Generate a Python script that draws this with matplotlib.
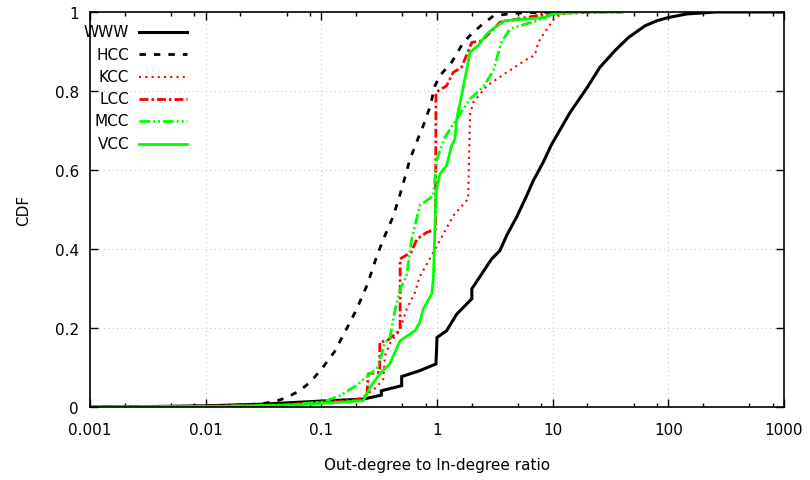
import matplotlib
matplotlib.use("Agg")
import matplotlib.pyplot as plt
from matplotlib.ticker import LogLocator, FixedLocator, NullFormatter, FixedFormatter
from matplotlib.lines import Line2D

# ---- data ----
www_x = [0.001, 0.003, 0.01, 0.03, 0.1, 0.23, 0.33, 0.33, 0.495, 0.495, 0.71, 0.98, 1.0, 1.21, 1.48, 2.0, 2.0, 2.97,
         3.5, 4.0, 4.9, 5.96, 6.8, 8.3, 9.8, 14.1, 20.0, 25.6, 34.5, 45.0, 62.8, 80.0, 100.0, 144.0, 261.0, 1000.0]
www_y = [0.0, 0.001, 0.003, 0.007, 0.015, 0.02, 0.03, 0.041, 0.054, 0.077, 0.092, 0.109, 0.176, 0.193, 0.235, 0.274,
         0.299, 0.375, 0.396, 0.434, 0.482, 0.535, 0.573, 0.62, 0.665, 0.745, 0.81, 0.86, 0.902, 0.935, 0.965, 0.978,
         0.986, 0.995, 1.0, 1.0]

hcc_x = [0.001, 0.005, 0.01, 0.02, 0.03, 0.04, 0.05, 0.065, 0.08, 0.1, 0.13, 0.16, 0.2, 0.25, 0.3, 0.344, 0.42, 0.495,
         0.585, 0.71, 0.76, 0.87, 0.96, 1.06, 1.34, 1.69, 2.06, 2.5, 3.07, 4.6, 10.0]
hcc_y = [0.0, 0.001, 0.003, 0.005, 0.008, 0.014, 0.024, 0.041, 0.063, 0.095, 0.14, 0.19, 0.245, 0.31, 0.38, 0.425,
         0.484, 0.552, 0.628, 0.691, 0.712, 0.76, 0.813, 0.839, 0.873, 0.923, 0.949, 0.97, 0.99, 0.997, 1.0]

kcc_x = [0.001, 0.01, 0.05, 0.1, 0.216, 0.3, 0.344, 0.355, 0.39, 0.48, 0.547, 0.645, 0.71, 1.0, 1.38, 1.86, 1.93,
         2.06, 2.69, 4.0, 5.96, 7.0, 7.5, 8.6, 10.4, 12.0, 30.0, 40.0]
kcc_y = [0.0, 0.001, 0.006, 0.013, 0.02, 0.05, 0.071, 0.13, 0.16, 0.197, 0.248, 0.29, 0.33, 0.408, 0.484, 0.527,
         0.74, 0.771, 0.813, 0.847, 0.88, 0.89, 0.923, 0.95, 0.985, 0.995, 1.0, 1.0]

lcc_x = [0.001, 0.01, 0.05, 0.1, 0.177, 0.247, 0.255, 0.32, 0.32, 0.37, 0.40, 0.46, 0.48, 0.48, 0.60, 0.67, 0.815,
         0.97, 0.98, 1.21, 1.38, 1.63, 2.0, 2.43, 2.87, 3.5, 7.0, 15.0, 40.0]
lcc_y = [0.0, 0.002, 0.006, 0.012, 0.015, 0.025, 0.084, 0.088, 0.164, 0.168, 0.176, 0.19, 0.197, 0.375, 0.392, 0.425,
         0.442, 0.45, 0.797, 0.813, 0.847, 0.86, 0.923, 0.927, 0.948, 0.974, 0.99, 1.0, 1.0]

mcc_x = [0.001, 0.01, 0.05, 0.104, 0.145, 0.2, 0.264, 0.30, 0.33, 0.355, 0.39, 0.43, 0.48, 0.547, 0.6, 0.71, 0.93,
         1.0, 1.17, 1.48, 1.93, 2.5, 3.07, 3.6, 4.27, 5.2, 7.3, 10.0, 20.0]
mcc_y = [0.0, 0.001, 0.005, 0.013, 0.029, 0.054, 0.084, 0.096, 0.13, 0.164, 0.172, 0.24, 0.299, 0.332, 0.42, 0.51,
         0.535, 0.628, 0.683, 0.729, 0.78, 0.81, 0.851, 0.923, 0.957, 0.965, 0.978, 0.995, 1.0]

vcc_x = [0.001, 0.01, 0.05, 0.145, 0.23, 0.27, 0.32, 0.39, 0.48, 0.645, 0.71, 0.76, 0.90, 0.93, 0.98, 1.06, 1.21,
         1.34, 1.43, 1.48, 1.63, 1.93, 2.27, 2.69, 3.17, 3.86, 8.6, 10.0, 15.0, 40.0]
vcc_y = [0.0, 0.001, 0.004, 0.012, 0.016, 0.054, 0.084, 0.109, 0.168, 0.193, 0.214, 0.248, 0.286, 0.324, 0.544,
         0.59, 0.611, 0.662, 0.678, 0.729, 0.788, 0.898, 0.915, 0.944, 0.961, 0.978, 0.986, 0.995, 1.0, 1.0]

labels = ["WWW", "HCC", "KCC", "LCC", "MCC", "VCC"]
xticks = [0.001, 0.01, 0.1, 1, 10, 100, 1000]
xtick_labels = ["0.001", "0.01", "0.1", "1", "10", "100", "1000"]
yticks = [0, 0.2, 0.4, 0.6, 0.8, 1]
ytick_labels = ["0", "0.2", "0.4", "0.6", "0.8", "1"]

# ---- styles ----
W, H = 810, 481
fig = plt.figure(figsize=(W / 100, H / 100), dpi=100)
ax = fig.add_axes([90 / W, 1 - 408 / H, (784 - 90) / W, (408 - 13) / H])

styles = [
    dict(color="black", lw=2.2, ls="-"),
    dict(color="black", lw=2.0, ls=(0, (2.3, 2.9))),
    dict(color="#ff0000", lw=1.5, ls=(0, (1.0, 2.0))),
    dict(color="#ff0000", lw=2.0, ls=(0, (3.2, 1.1, 0.9, 1.1))),
    dict(color="#00ff00", lw=2.0, ls=(0, (3.8, 1.1, 0.7, 1.1, 0.7, 1.1))),
    dict(color="#00ff00", lw=2.0, ls="-"),
]
series = [(www_x, www_y), (hcc_x, hcc_y), (kcc_x, kcc_y), (lcc_x, lcc_y), (mcc_x, mcc_y), (vcc_x, vcc_y)]
for (xs, ys), st in zip(series, styles):
    ax.plot(xs, ys, color=st["color"], lw=st["lw"], linestyle=st["ls"], solid_joinstyle="miter")

ax.set_xscale("log")
ax.set_xlim(0.001, 1000)
ax.set_ylim(0, 1)

ax.xaxis.set_major_locator(FixedLocator(xticks))
ax.xaxis.set_major_formatter(FixedFormatter(xtick_labels))
ax.xaxis.set_minor_locator(LogLocator(base=10, subs=[2, 5, 8]))
ax.xaxis.set_minor_formatter(NullFormatter())
ax.yaxis.set_major_locator(FixedLocator(yticks))
ax.yaxis.set_major_formatter(FixedFormatter(ytick_labels))

ax.tick_params(which="major", direction="in", length=6, width=1.0, top=True, right=True, labelsize=11)
ax.tick_params(which="minor", direction="in", length=3, width=1.0, top=True, right=True)
ax.tick_params(axis="x", which="major", pad=11)
ax.tick_params(axis="y", which="major", pad=8)
for sp in ax.spines.values():
    sp.set_linewidth(1.2)

ax.grid(True, which="major", color="#c8c8c8", linestyle=(0, (1, 3)), linewidth=0.8)
ax.set_axisbelow(True)

ax.set_xlabel("Out-degree to In-degree ratio", fontsize=11, labelpad=14)
ax.set_ylabel("CDF", fontsize=11, labelpad=17)

# ---- legend (gnuplot-style: right-aligned text, sample on the right) ----
leg_y = [33, 55, 78, 100, 122, 145]
for lab, st, yy in zip(labels, styles, leg_y):
    fy = 1 - yy / H
    fig.text(129 / W, fy, lab, ha="right", va="center", fontsize=11)
    fig.add_artist(Line2D([139 / W, 187 / W], [fy, fy], transform=fig.transFigure,
                          color=st["color"], lw=st["lw"], linestyle=st["ls"]))

fig.savefig("out.png", dpi=100)
